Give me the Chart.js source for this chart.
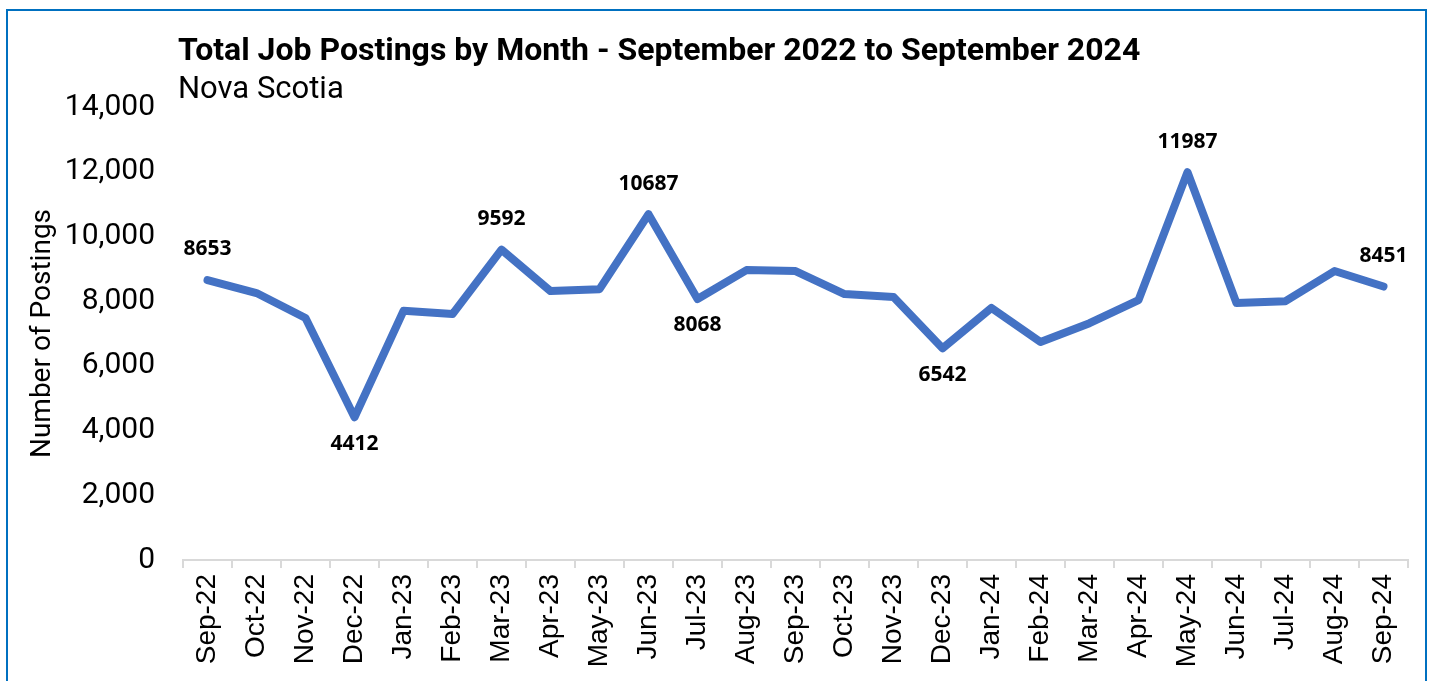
<!DOCTYPE html>
<html>
<head>
<meta charset="utf-8">
<script src="https://cdn.jsdelivr.net/npm/chart.js@4"></script>
<style>
  html, body { margin: 0; padding: 0; background: #fff; }
  #wrap { position: relative; width: 1435px; height: 681px; overflow: hidden; }
  #frame { position: absolute; left: 6px; top: 9px; width: 1417px; height: 700px; border: 2px solid #0070C0; }
  canvas { position: absolute; left: 0; top: 0; }
</style>
</head>
<body>
<div id="wrap">
  <div id="frame"></div>
  <canvas id="chart" width="1435" height="681"></canvas>
</div>
<script>
// chart text
const chartTitle = 'Total Job Postings by Month - September 2022 to September 2024';
const chartSubtitle = 'Nova Scotia';
const yAxisTitle = 'Number of Postings';

// categories
const months = ['Sep-22', 'Oct-22', 'Nov-22', 'Dec-22', 'Jan-23', 'Feb-23', 'Mar-23', 'Apr-23', 'May-23',
  'Jun-23', 'Jul-23', 'Aug-23', 'Sep-23', 'Oct-23', 'Nov-23', 'Dec-23', 'Jan-24', 'Feb-24', 'Mar-24',
  'Apr-24', 'May-24', 'Jun-24', 'Jul-24', 'Aug-24', 'Sep-24'];

// total postings per month (labelled ones exact, the rest)
const postings = [8653, 8250, 7480, 4412, 7700, 7600, 9592, 8310, 8370, 10687, 8068, 8960, 8930, 8220,
  8130, 6542, 7790, 6740, 7320, 8030, 11987, 7940, 8000, 8930, 8451];

// which points carry a value label, and on which side
const labelAbove = [0, 6, 9, 20, 24];
const labelBelow = [3, 10, 15];

// y axis
const yMin = 0;
const yMax = 14000;
const yStep = 2000;

const condensed = "'Roboto', sans-serif";

const headerPlugin = {
  id: 'header',
  afterDraw(chart) {
    const ctx = chart.ctx;
    ctx.save();
    ctx.fillStyle = '#000';
    ctx.textAlign = 'left';
    ctx.textBaseline = 'alphabetic';
    ctx.font = "bold 32px " + condensed;
    ctx.fillText(chartTitle, 178, 60);
    ctx.font = "31px 'Roboto', sans-serif";
    ctx.fillText(chartSubtitle, 178, 98);
    ctx.restore();
  }
};

const valueLabels = {
  id: 'valueLabels',
  afterDatasetsDraw(chart) {
    const ctx = chart.ctx;
    const meta = chart.getDatasetMeta(0);
    ctx.save();
    ctx.font = "bold 21px 'Open Sans', sans-serif";
    ctx.fillStyle = '#000';
    ctx.textAlign = 'center';
    labelAbove.forEach(i => {
      const p = meta.data[i];
      ctx.textBaseline = 'bottom';
      ctx.fillText(String(postings[i]), p.x, p.y - 20);
    });
    labelBelow.forEach(i => {
      const p = meta.data[i];
      ctx.textBaseline = 'top';
      ctx.fillText(String(postings[i]), p.x, p.y + 16);
    });
    ctx.restore();
  }
};

new Chart(document.getElementById('chart'), {
  type: 'line',
  data: {
    labels: months,
    datasets: [{
      label: 'Total Job Postings',
      data: postings,
      borderColor: '#4472C4',
      backgroundColor: '#4472C4',
      borderWidth: 8,
      pointRadius: 0,
      tension: 0,
      borderJoinStyle: 'round',
      borderCapStyle: 'round'
    }]
  },
  options: {
    responsive: false,
    animation: false,
    events: [],
    layout: { padding: { left: 20, right: 27, top: 107, bottom: 0 } },
    plugins: {
      legend: { display: false },
      tooltip: { enabled: false }
    },
    scales: {
      x: {
        offset: true,
        afterFit(scale) { scale.height = 121; },
        grid: {
          offset: true,
          drawOnChartArea: false,
          drawTicks: true,
          tickLength: 8,
          color: '#D9D9D9',
          lineWidth: 2
        },
        border: { display: true, color: '#D9D9D9', width: 2 },
        ticks: {
          autoSkip: false,
          maxRotation: 90,
          minRotation: 90,
          padding: 6,
          color: '#000',
          font: { family: "'Liberation Sans', Arial, sans-serif", size: 28 }
        }
      },
      y: {
        min: yMin,
        max: yMax,
        afterFit(scale) { scale.width = 163; },
        grid: { display: false, drawTicks: false },
        border: { display: false },
        ticks: {
          stepSize: yStep,
          padding: 28,
          color: '#000',
          font: { family: condensed, size: 30 },
          callback: v => v.toLocaleString('en-US')
        },
        title: {
          display: true,
          text: yAxisTitle,
          color: '#000',
          padding: { top: 6, bottom: 0 },
          font: { family: condensed, size: 28 }
        }
      }
    }
  },
  plugins: [headerPlugin, valueLabels]
});
</script>
</body>
</html>
